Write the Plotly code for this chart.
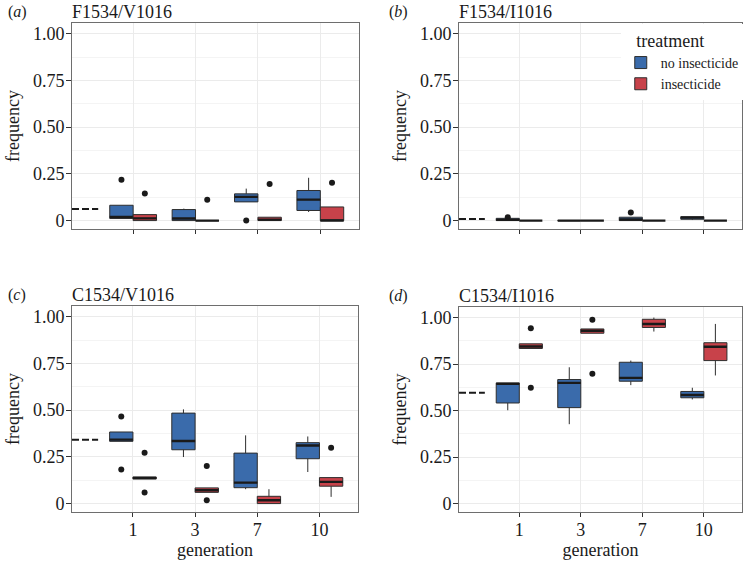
import plotly.graph_objects as go

# generations on the x axis
gens = ["1", "3", "7", "10"]
panels = ["F1534/V1016", "F1534/I1016", "C1534/V1016", "C1534/I1016"]
letters = ["a", "b", "c", "d"]
start_freq = [0.0625, 0.009, 0.342, 0.596]

# no insecticide, one row per panel, one value per generation
no_q1 = [[0.011, 0.0, 0.10, 0.054], [0.0, 0.0, 0.0, 0.007], [0.333, 0.288, 0.085, 0.240], [0.541, 0.516, 0.658, 0.569]]
no_med = [[0.020, 0.011, 0.127, 0.112], [0.004, 0.0, 0.006, 0.016], [0.342, 0.335, 0.112, 0.311], [0.644, 0.649, 0.676, 0.584]]
no_q3 = [[0.082, 0.059, 0.143, 0.161], [0.012, 0.0, 0.018, 0.021], [0.383, 0.484, 0.270, 0.326], [0.649, 0.667, 0.760, 0.603]]
no_lo = [[0.011, 0.0, 0.10, 0.046], [0.0, 0.0, 0.0, 0.003], [0.333, 0.249, 0.077, 0.169], [0.502, 0.427, 0.637, 0.560]]
no_hi = [[0.082, 0.064, 0.171, 0.229], [0.012, 0.0, 0.018, 0.021], [0.383, 0.504, 0.365, 0.359], [0.649, 0.733, 0.769, 0.623]]
no_out = [[[0.218], [], [0.0], []], [[0.018], [], [0.043], []], [[0.466, 0.183], [], [], []], [[], [], [], []]]

# insecticide
ins_q1 = [[0.0, 0.0, 0.0, 0.0], [0.0, 0.0, 0.0, 0.0], [0.132, 0.060, 0.0, 0.093], [0.834, 0.916, 0.947, 0.769]]
ins_med = [[0.012, 0.0, 0.005, 0.0], [0.0, 0.0, 0.0, 0.0], [0.137, 0.071, 0.018, 0.116], [0.845, 0.929, 0.966, 0.843]]
ins_q3 = [[0.032, 0.0, 0.018, 0.073], [0.0, 0.0, 0.0, 0.0], [0.142, 0.084, 0.039, 0.139], [0.859, 0.939, 0.991, 0.865]]
ins_lo = [[0.0, 0.0, 0.0, 0.0], [0.0, 0.0, 0.0, 0.0], [0.132, 0.060, 0.0, 0.036], [0.834, 0.916, 0.925, 0.689]]
ins_hi = [[0.032, 0.0, 0.018, 0.073], [0.0, 0.0, 0.0, 0.0], [0.142, 0.084, 0.077, 0.139], [0.859, 0.939, 1.0, 0.966]]
ins_out = [[[0.145], [0.112], [0.196], [0.202]], [[], [], [0.003], [0.018]], [[0.272, 0.059], [0.201, 0.018], [], [0.299]], [[0.943, 0.623], [0.988, 0.698], [], []]]

blue = "#3a6bab"
red = "#c8424a"
font = "Liberation Serif"
ink = "#1a1a1a"

W, H = 747, 561
# plot areas in pixels: left, right, top, bottom
boxes_px = [(72, 359, 23, 229), (459, 742, 23, 229), (72, 358, 306, 512), (459, 742, 307, 512)]

fig = go.Figure()

series = [
    ("no insecticide", "no", blue, no_q1, no_med, no_q3, no_lo, no_hi, no_out),
    ("insecticide", "ins", red, ins_q1, ins_med, ins_q3, ins_lo, ins_hi, ins_out),
]

for p in range(4):
    sfx = "" if p == 0 else str(p + 1)
    for name, key, col, q1, med, q3, lo, hi, out in series:
        has_pts = any(len(v) for v in out[p])
        fig.add_trace(go.Box(
            x=gens, y=out[p] if has_pts else None,
            q1=q1[p], median=med[p], q3=q3[p],
            lowerfence=lo[p], upperfence=hi[p],
            boxpoints="outliers" if has_pts else False, jitter=0, pointpos=0,
            name=name, legendgroup=name, showlegend=(p == 0),
            offsetgroup=key, alignmentgroup="panel" + str(p),
            fillcolor=col, line=dict(color="#2e2e2e", width=1),
            marker=dict(color=ink, size=6),
            whiskerwidth=0,
            xaxis="x" + sfx, yaxis="y" + sfx,
        ))
        # thicker median bar like ggplot's boxplot
        fig.add_trace(go.Box(
            x=gens, q1=med[p], median=med[p], q3=med[p],
            lowerfence=med[p], upperfence=med[p],
            boxpoints=False, name=name, legendgroup=name, showlegend=False,
            offsetgroup=key, alignmentgroup="panel" + str(p),
            fillcolor="rgba(0,0,0,0)", line=dict(color=ink, width=2.4),
            whiskerwidth=0, hoverinfo="skip",
            xaxis="x" + sfx, yaxis="y" + sfx,
        ))
    # dashed start frequency
    fig.add_shape(type="line", xref="x" + sfx, yref="y" + sfx,
                  x0=-0.98, x1=-0.56, y0=start_freq[p], y1=start_freq[p],
                  line=dict(color=ink, width=2, dash="7px,3px"))

    l, r, t, b = boxes_px[p]
    bottom_row = p >= 2
    fig.layout["xaxis" + sfx] = dict(
        domain=[l / W, r / W], anchor="y" + sfx, automargin=False,
        type="category", categoryorder="array", categoryarray=gens,
        range=[-0.98, 3.62],
        showgrid=True, gridcolor="#ebebeb", gridwidth=1,
        showline=True, mirror=True, linecolor="#6e6e6e", linewidth=1,
        ticks="outside", ticklen=4, tickcolor="#333333",
        showticklabels=bottom_row, ticklabelstandoff=-3,
        tickfont=dict(family=font, size=18, color=ink),
        title=dict(text="generation" if bottom_row else "", standoff=0,
                   font=dict(family=font, size=18, color=ink)),
        zeroline=False,
    )
    fig.layout["yaxis" + sfx] = dict(
        domain=[1 - b / H, 1 - t / H], anchor="x" + sfx, automargin=False,
        range=[-0.045, 1.057],
        tickvals=[0, 0.25, 0.5, 0.75, 1.0],
        ticktext=["0", "0.25", "0.50", "0.75", "1.00"],
        showgrid=True, gridcolor="#ebebeb", gridwidth=1,
        minor=dict(dtick=0.125, tick0=0.125, showgrid=True, gridcolor="#f4f4f4", gridwidth=1),
        showline=True, mirror=True, linecolor="#6e6e6e", linewidth=1,
        ticks="outside", ticklen=5, tickcolor="#333333",
        ticklabelstandoff=-2,
        tickfont=dict(family=font, size=18, color=ink),
        title=dict(text="frequency", standoff=8,
                   font=dict(family=font, size=18, color=ink)),
        zeroline=False,
    )
    # panel letter and title
    lx = 6 if l < 100 else 387
    fig.add_annotation(text="(<i>" + letters[p] + "</i>)", x=lx / W,
                       y=1 - (t - 11) / H, xref="paper", yref="paper",
                       showarrow=False, xanchor="left", yanchor="middle",
                       font=dict(family=font, size=16, color=ink))
    fig.add_annotation(text=panels[p], x=(l - 2) / W, y=1 - (t - 11) / H,
                       xref="paper", yref="paper", showarrow=False,
                       xanchor="left", yanchor="middle",
                       font=dict(family=font, size=18, color=ink))

fig.update_layout(
    width=W, height=H,
    margin=dict(l=0, r=0, t=0, b=0),
    paper_bgcolor="white", plot_bgcolor="white",
    boxmode="group", boxgap=0.25, boxgroupgap=0,
    legend=dict(
        x=0.831, y=0.958, xanchor="left", yanchor="top",
        bgcolor="white",
        title=dict(text="&nbsp;&nbsp;&nbsp;treatment", font=dict(family=font, size=18, color=ink)),
        font=dict(family=font, size=14, color=ink),
        tracegroupgap=0, itemwidth=30,
    ),
    font=dict(family=font),
)

# the page body has a default 8px margin; drop it so the figure sits at 0,0
fig.write_html("out.html", config={"displayModeBar": False},
               post_script="document.body.style.margin='0';")
